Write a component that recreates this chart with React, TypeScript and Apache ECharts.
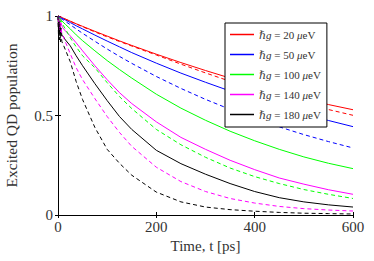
import React, { useEffect, useRef } from "react";
import * as echarts from "echarts";

const times = [0, 1, 2, 3, 4, 5, 6, 8, 10, 15, 25, 37, 50, 75, 100, 125, 150, 200, 250, 300, 350, 400, 450, 500, 550, 600];

const g20Solid = [1, 0.998, 1, 0.997, 0.999, 0.996, 0.995, 0.993, 0.99, 0.985, 0.974, 0.961, 0.948, 0.923, 0.899, 0.875, 0.852, 0.808, 0.766, 0.726, 0.688, 0.652, 0.618, 0.586, 0.555, 0.529];
const g20Dashed = [1, 0.997, 0.999, 0.996, 0.998, 0.995, 0.994, 0.992, 0.99, 0.984, 0.973, 0.96, 0.946, 0.92, 0.895, 0.872, 0.849, 0.804, 0.758, 0.714, 0.672, 0.633, 0.596, 0.562, 0.53, 0.501];
const g50Solid = [1, 0.996, 0.999, 0.994, 0.997, 0.993, 0.992, 0.989, 0.987, 0.98, 0.967, 0.951, 0.935, 0.904, 0.874, 0.845, 0.816, 0.763, 0.713, 0.667, 0.623, 0.582, 0.544, 0.509, 0.475, 0.444];
const g50Dashed = [1, 0.993, 0.998, 0.99, 0.995, 0.988, 0.988, 0.985, 0.982, 0.973, 0.956, 0.935, 0.913, 0.873, 0.834, 0.797, 0.762, 0.696, 0.636, 0.581, 0.531, 0.485, 0.443, 0.404, 0.369, 0.337];
const g100Solid = [1, 0.985, 0.995, 0.98, 0.99, 0.978, 0.982, 0.975, 0.97, 0.958, 0.935, 0.905, 0.876, 0.825, 0.776, 0.731, 0.688, 0.607, 0.537, 0.476, 0.421, 0.373, 0.33, 0.292, 0.26, 0.233];
const g100Dashed = [1, 0.98, 0.993, 0.975, 0.985, 0.97, 0.975, 0.965, 0.955, 0.935, 0.89, 0.845, 0.8, 0.74, 0.665, 0.595, 0.535, 0.43, 0.353, 0.29, 0.236, 0.193, 0.158, 0.128, 0.104, 0.083];
const g140Solid = [1, 0.97, 0.99, 0.96, 0.98, 0.955, 0.965, 0.95, 0.94, 0.925, 0.9, 0.865, 0.825, 0.75, 0.68, 0.615, 0.56, 0.468, 0.39, 0.33, 0.275, 0.228, 0.186, 0.155, 0.127, 0.104];
const g140Dashed = [1, 0.95, 0.985, 0.93, 0.965, 0.92, 0.94, 0.91, 0.9, 0.87, 0.81, 0.74, 0.68, 0.585, 0.495, 0.415, 0.345, 0.24, 0.168, 0.118, 0.083, 0.06, 0.043, 0.032, 0.025, 0.02];
const g180Solid = [1, 0.93, 0.98, 0.92, 0.96, 0.91, 0.94, 0.9, 0.9, 0.88, 0.85, 0.8, 0.75, 0.66, 0.575, 0.495, 0.43, 0.325, 0.258, 0.205, 0.158, 0.118, 0.087, 0.066, 0.051, 0.04];
const g180Dashed = [1, 0.9, 0.97, 0.88, 0.94, 0.87, 0.91, 0.87, 0.86, 0.83, 0.77, 0.67, 0.58, 0.44, 0.33, 0.26, 0.2, 0.115, 0.066, 0.04, 0.027, 0.019, 0.013, 0.009, 0.007, 0.005];

const couplings = ["20", "50", "100", "140", "180"];
const colors = ["#ff0000", "#0000ff", "#00ff00", "#ff00ff", "#000000"];
const solidSets = [g20Solid, g50Solid, g100Solid, g140Solid, g180Solid];
const dashedSets = [g20Dashed, g50Dashed, g100Dashed, g140Dashed, g180Dashed];

const xTicks = { min: 0, max: 600, interval: 200 };
const yTicks = { min: 0, max: 1, interval: 0.5 };

const FONT = "'Liberation Serif', 'DejaVu Serif', serif";

export default function App() {
  const ref = useRef<HTMLDivElement>(null);
  useEffect(() => {
    if (!ref.current) return;
    const chart = echarts.init(ref.current, undefined, { renderer: "svg" });
    const pairs = (vals: number[]) => times.map((t, i) => [t, vals[i]]);
    const series: any[] = [];
    couplings.forEach((g, k) => {
      series.push({
        name: g,
        type: "line",
        data: pairs(solidSets[k]),
        symbol: "none",
        showSymbol: false,
        lineStyle: { color: colors[k], width: 1, type: "solid" },
        itemStyle: { color: colors[k] },
      });
    });
    couplings.forEach((g, k) => {
      series.push({
        name: g + " dashed",
        type: "line",
        data: pairs(dashedSets[k]),
        symbol: "none",
        showSymbol: false,
        lineStyle: { color: colors[k], width: 1, type: [4, 3] },
        itemStyle: { color: colors[k] },
      });
    });
    const axisLine = { show: true, lineStyle: { color: "#000", width: 1 } };
    const axisTick = { show: true, inside: true, length: 3, lineStyle: { color: "#000", width: 1 } };
    chart.setOption({
      animation: false,
      backgroundColor: "#fff",
      grid: { left: 58, top: 16, right: 21, bottom: 46, containLabel: false, outerBoundsMode: "none" },
      legend: {
        data: couplings,
        orient: "vertical",
        left: 225,
        top: 23,
        padding: [6, 6, 7, 5],
        icon: "rect",
        itemWidth: 24,
        itemHeight: 1.5,
        itemGap: 9,
        backgroundColor: "#fff",
        borderColor: "#000",
        borderWidth: 1,
        borderRadius: 0,
        formatter: (name: string) => `{i|ℏg} = ${name} {i|μ}eV`,
        textStyle: {
          fontFamily: FONT,
          fontSize: 11,
          color: "#333",
          rich: { i: { fontStyle: "italic", fontFamily: FONT, fontSize: 11, color: "#333" } },
        },
      },
      xAxis: [
        {
          type: "value",
          position: "bottom",
          ...xTicks,
          name: "Time, t [ps]",
          nameLocation: "middle",
          nameGap: 21,
          nameTextStyle: { fontFamily: FONT, fontSize: 15, color: "#333" },
          axisLine,
          axisTick,
          splitLine: { show: false },
          axisLabel: { fontFamily: FONT, fontSize: 15, color: "#333", margin: 4 },
        },
        {
          type: "value",
          position: "top",
          ...xTicks,
          axisLine,
          axisTick,
          splitLine: { show: false },
          axisLabel: { show: false },
        },
      ],
      yAxis: [
        {
          type: "value",
          position: "left",
          ...yTicks,
          name: "Excited QD population",
          nameLocation: "middle",
          nameGap: 39,
          nameTextStyle: { fontFamily: FONT, fontSize: 15.5, color: "#333" },
          axisLine,
          axisTick,
          splitLine: { show: false },
          axisLabel: { fontFamily: FONT, fontSize: 15, color: "#333", margin: 5 },
        },
        {
          type: "value",
          position: "right",
          ...yTicks,
          axisLine,
          axisTick,
          splitLine: { show: false },
          axisLabel: { show: false },
        },
      ],
      series,
    });
    return () => chart.dispose();
  }, []);
  return <div ref={ref} style={{ width: 374, height: 261, position: "absolute", left: 0, top: 0 }} />;
}
